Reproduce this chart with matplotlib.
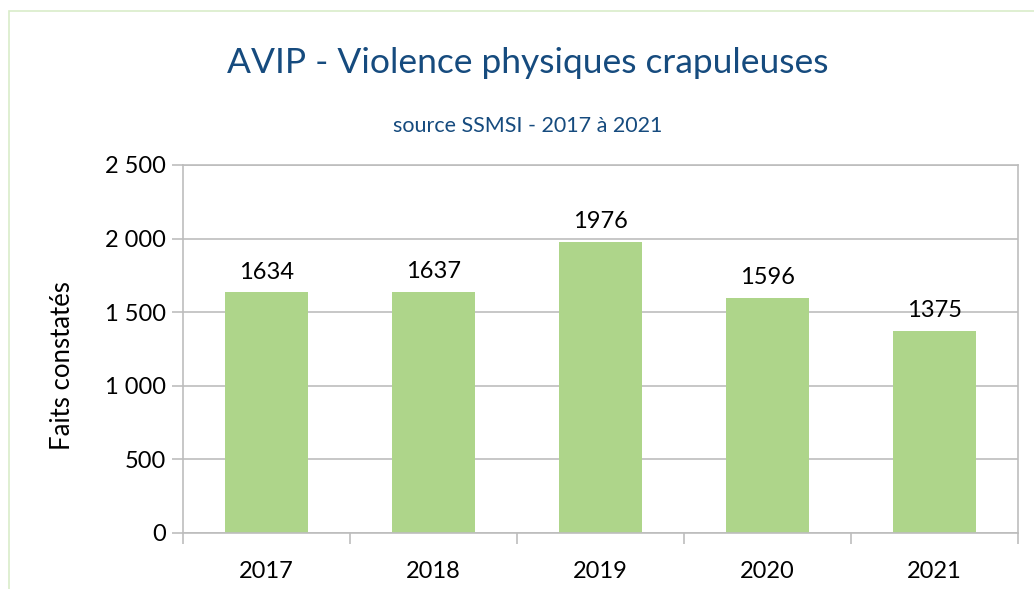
import matplotlib.pyplot as plt
from matplotlib.patches import Rectangle
from matplotlib.ticker import FuncFormatter

# data
years = ["2017", "2018", "2019", "2020", "2021"]
faits = [1634, 1637, 1976, 1596, 1375]
y_ticks = [0, 500, 1000, 1500, 2000, 2500]

plt.rcParams['font.family'] = ['Lato', 'DejaVu Sans']

title_col = "#164b7e"
grid_col = "#bdbdbd"
bar_col = "#aed58a"

fig = plt.figure(figsize=(10.34, 5.89), dpi=100)
ax = fig.add_axes([0.177, 0.0951, 0.8075, 0.6248])

x = range(len(years))
bars = ax.bar(x, faits, width=0.5, color=bar_col, zorder=2)

for bar, v in zip(bars, faits):
    ax.annotate(str(v), (bar.get_x() + bar.get_width() / 2, v),
                xytext=(0, 7), textcoords="offset points",
                ha="center", va="bottom", fontsize=17, color="black")

ax.set_xlim(-0.5, len(years) - 0.5)
ax.set_ylim(0, 2500)
ax.set_yticks(y_ticks)
ax.yaxis.set_major_formatter(FuncFormatter(lambda v, p: f"{int(v):,}".replace(",", " ")))
ax.set_xticks(list(x))
ax.set_xticklabels(years)
ax.set_xticks([i - 0.5 for i in range(len(years) + 1)], minor=True)

ax.tick_params(axis="x", which="major", length=0, labelsize=17, pad=20)
ax.tick_params(axis="x", which="minor", length=8, color=grid_col, width=1.2)
ax.tick_params(axis="y", length=8, color=grid_col, width=1.2, labelsize=17, pad=4)

ax.grid(axis="y", color=grid_col, linewidth=1.2, zorder=0)
for s in ax.spines.values():
    s.set_color(grid_col)
    s.set_linewidth(1.2)

fig.text(0.06, 0.38, "Faits constatés", rotation=90, ha="center", va="center", fontsize=18.5)
fig.text(0.51, 0.893, "AVIP - Violence physiques crapuleuses", ha="center", va="center",
         fontsize=25.5, color=title_col)
fig.text(0.51, 0.786, "source SSMSI - 2017 à 2021", ha="center", va="center",
         fontsize=15.5, color=title_col)

# pale green frame around the chart area (cut by the image edge)
fig.patches.append(Rectangle((0.0085, -0.1), 1.2, 1.082, transform=fig.transFigure,
                             fill=False, edgecolor="#d9ecc9", linewidth=1.2))

fig.savefig("out.png", dpi=100)
